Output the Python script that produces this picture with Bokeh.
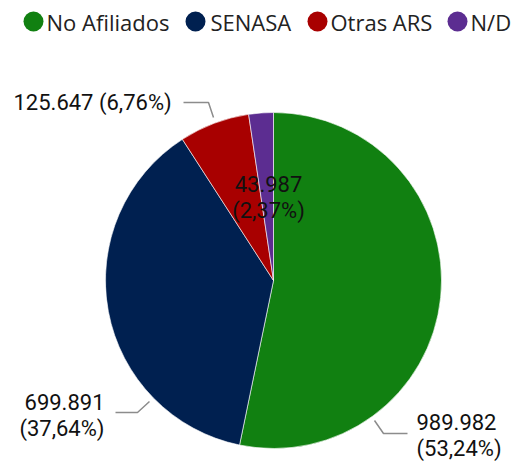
import math
from bokeh.plotting import figure
from bokeh.models import Range1d, ColumnDataSource
from bokeh.core.properties import value
from bokeh.embed import file_html
from bokeh.resources import INLINE

# ---- data ----
categories = ["No Afiliados", "SENASA", "Otras ARS", "N/D"]
counts = [989982, 699891, 125647, 43987]
colors = ["#118011", "#002050", "#A80000", "#5C2D91"]

# ---- layout (reference pixel coords) ----
W, H = 526, 467
CX, CY, R = 273, 280, 168
legend_circle_x = [33, 195, 317, 457]
legend_text_x = [46, 210, 330, 470]
LEG_Y = 21

def px(rx):
    return rx

def py(ry):
    return H - ry

def fmt_int(v):
    return f"{v:,}".replace(",", ".")

def fmt_pct(f):
    return f"{f*100:.2f}".replace(".", ",") + "%"

total = sum(counts)
fracs = [c / total for c in counts]

p = figure(width=W, height=H, output_backend="svg", toolbar_location=None,
           x_range=Range1d(0, W), y_range=Range1d(0, H), min_border=0)
p.axis.visible = False
p.grid.visible = False
p.outline_line_color = None
p.background_fill_color = None
p.border_fill_color = None

# wedges, clockwise from top
starts, ends = [], []
a = math.pi / 2
for f in fracs:
    starts.append(a)
    a -= 2 * math.pi * f
    ends.append(a)
src = ColumnDataSource(dict(start=starts, end=ends, color=colors))
p.wedge(x=px(CX), y=py(CY), radius=R, start_angle="start", end_angle="end",
        direction="clock", fill_color="color", line_color="white",
        line_width=0.6, source=src)

# legend
p.scatter(x=[px(x) for x in legend_circle_x], y=[py(LEG_Y)] * 4, size=20,
          marker="circle", fill_color=colors, line_color=None)
p.text(x=[px(x) for x in legend_text_x], y=[py(LEG_Y)] * 4, text=categories,
       text_font=value("Open Sans"), text_font_size="22px",
       text_baseline="middle", text_align="left", text_color="#222222")

# leader lines
leaders = [
    [(374, 420), (383, 433), (407, 433)],
    [(149, 401), (137, 412), (115, 412)],
    [(213, 117), (208, 102), (183, 102)],
]
for pts in leaders:
    p.line([px(x) for x, _ in pts], [py(y) for _, y in pts],
           line_color="#8c8c8c", line_width=1.5)

# data labels
lab_font = value("Roboto")
vals = [fmt_int(c) for c in counts]
pcts = ["(" + fmt_pct(f) + ")" for f in fracs]

def lab(x, y, t, align):
    p.text(x=[px(x)], y=[py(y)], text=[t], text_font=lab_font,
           text_font_size="22px", text_baseline="middle", text_align=align,
           text_color="#111111")

lab(416, 421, vals[0], "left")
lab(416, 448, pcts[0], "left")
lab(104, 401, vals[1], "right")
lab(104, 428, pcts[1], "right")
lab(13, 102, vals[2] + " " + pcts[2], "left")
lab(268, 183, vals[3], "center")
lab(268, 210, pcts[3], "center")

open("out.html", "w").write(file_html(p, INLINE))
